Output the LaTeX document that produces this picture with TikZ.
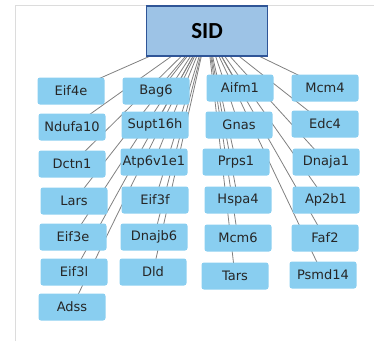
\documentclass[tikz,border=0pt]{standalone}
\usepackage{fontspec}
\setmainfont{DejaVu Sans}
\newfontfamily\titlefont{Carlito}
\usetikzlibrary{backgrounds}
\definecolor{genefill}{RGB}{137,206,240}
\definecolor{hubfill}{RGB}{157,195,230}
\definecolor{hubline}{RGB}{47,85,151}
\definecolor{linkgray}{RGB}{128,128,128}
\definecolor{framegray}{RGB}{220,220,220}
\tikzset{
  gene/.style={rectangle, rounded corners=2.5pt, fill=genefill, draw=none,
    minimum width=67pt, minimum height=27pt, inner sep=0pt,
    font=\fontsize{13pt}{15pt}\selectfont, text=black!85},
  hub/.style={rectangle, fill=hubfill, draw=hubline, line width=1.3pt,
    minimum width=121pt, minimum height=50pt, inner sep=0pt,
    font=\titlefont\bfseries\fontsize{23pt}{26pt}\selectfont},
  link/.style={draw=linkgray, line width=0.8pt}
}
\begin{document}
\begin{tikzpicture}[x=1pt,y=-1pt]
\useasboundingbox (0,0) rectangle (374,341);
% page frame
\draw[framegray, line width=0.6pt] (15,341) -- (15,5) -- (374,5);

\node[hub] (sid) at (207,31) {SID};

% first column
\node[gene] (eif4e)   at (71,91)  {Eif4e};
\node[gene] (ndufa10) at (72,127) {Ndufa10};
\node[gene] (dctn1)   at (72,164) {Dctn1};
\node[gene] (lars)    at (74,201) {Lars};
\node[gene] (eif3e)   at (73,237) {Eif3e};
\node[gene] (eif3l)   at (74,272) {Eif3l};
\node[gene] (adss)    at (72,307) {Adss};
% second column
\node[gene] (bag6)     at (156,91)  {Bag6};
\node[gene] (supt16h)  at (155,125) {Supt16h};
\node[gene] (atp6v1e1) at (154,162) {Atp6v1e1};
\node[gene] (eif3f)    at (155,200) {Eif3f};
\node[gene] (dnajb6)   at (154,237) {Dnajb6};
\node[gene] (dld)      at (153,272) {Dld};
% third column
\node[gene] (aifm1) at (240,88)  {Aifm1};
\node[gene] (gnas)  at (239,125) {Gnas};
\node[gene] (prps1) at (236,162) {Prps1};
\node[gene] (hspa4) at (238,200) {Hspa4};
\node[gene] (mcm6)  at (238,238) {Mcm6};
\node[gene] (tars)  at (235,276) {Tars};
% fourth column
\node[gene] (mcm4)   at (325,88)  {Mcm4};
\node[gene] (edc4)   at (325,124) {Edc4};
\node[gene] (dnaja1) at (326,162) {Dnaja1};
\node[gene] (ap2b1)  at (326,200) {Ap2b1};
\node[gene] (faf2)   at (325,238) {Faf2};
\node[gene] (psmd14) at (323,275) {Psmd14};

% interaction lines run behind the boxes
\begin{scope}[on background layer]
\foreach \g in {eif4e,ndufa10,dctn1,lars,eif3e,eif3l,adss,
                bag6,supt16h,atp6v1e1,eif3f,dnajb6,dld,
                aifm1,gnas,prps1,hspa4,mcm6,tars,
                mcm4,edc4,dnaja1,ap2b1,faf2,psmd14}
  \draw[link] (sid.center) -- (\g.center);
\end{scope}
\end{tikzpicture}
\end{document}
